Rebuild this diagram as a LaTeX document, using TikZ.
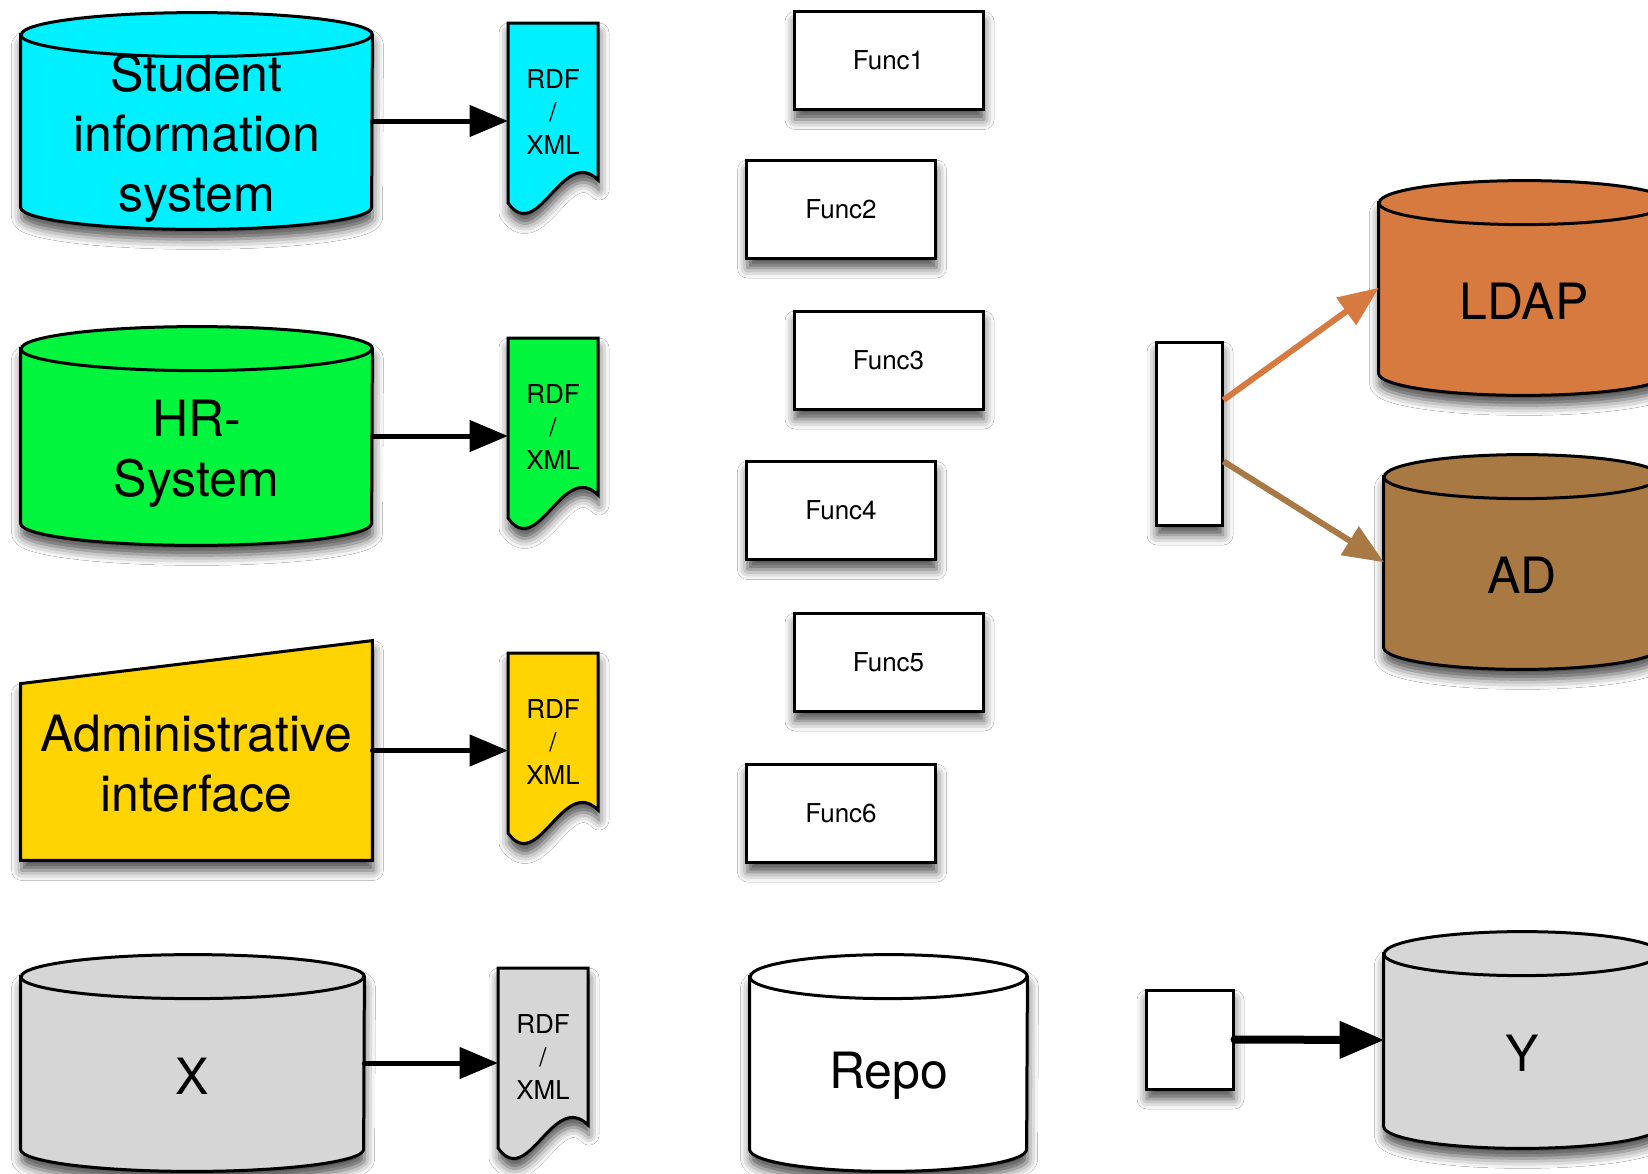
\documentclass[tikz,border=0pt]{standalone}
\usepackage{fontspec}
\setmainfont{TeX Gyre Heros}
\usetikzlibrary{arrows.meta,shadows.blur,calc}

\definecolor{siscyan}{RGB}{0,240,255}
\definecolor{hrgreen}{RGB}{0,245,60}
\definecolor{admyellow}{RGB}{255,212,0}
\definecolor{dbgray}{RGB}{214,214,214}
\definecolor{ldaporange}{RGB}{215,122,64}
\definecolor{adbrown}{RGB}{168,121,66}

\tikzset{
  base/.style={draw, line width=1.5pt, blur shadow={shadow xshift=0.5pt, shadow yshift=-5pt, shadow blur radius=5pt, shadow opacity=70}},
  bigtext/.style={align=center, inner sep=0pt, font=\fontsize{25}{30}\selectfont},
  func/.style={base, rectangle, fill=white, minimum width=94.5pt, minimum height=49pt, font=\fontsize{13}{16}\selectfont},
  doctext/.style={align=center, inner sep=0pt, minimum width=45pt, font=\fontsize{13}{16.5}\selectfont},
  feed/.style={opacity=1, line width=2.5pt, line cap=round, -{Triangle[length=19pt,width=16pt,line width=0.5pt,fill=black]}}
}

% database: name, centre x, centre y, width, height (px), colour, text, text drop
\newcommand{\dbcyl}[8]{%
  \node[inner sep=0pt, minimum width=#4*0.5pt, minimum height=#5*0.5pt] (#1) at (#2,#3) {};
  \draw[base, fill=#6] ([yshift=-11pt]#1.north west) -- ([yshift=11pt]#1.south west)
    arc[start angle=180, end angle=360, x radius=#4*0.25pt, y radius=11pt]
    -- ([yshift=-11pt]#1.north east)
    arc[start angle=0, end angle=180, x radius=#4*0.25pt, y radius=11pt] -- cycle;
  \draw[opacity=1, line width=1.5pt] ([yshift=-11pt]#1.north west) arc[start angle=180, end angle=360, x radius=#4*0.25pt, y radius=11pt];
  \node[bigtext] (#1-text) at ([yshift=-#8]#1.center) {#7};
}

\begin{document}
\begin{tikzpicture}[x=0.5pt, y=-0.5pt]
\fill[white] (0,0) rectangle (1648,1173);
\useasboundingbox (0,0) rectangle (1648,1173);

% sources
\dbcyl{sis}{196.5}{121}{351}{216}{siscyan}{Student\\information\\system}{8.5pt}
\dbcyl{hr}{196.5}{436}{351}{218}{hrgreen}{HR-\\System}{9pt}
\node[inner sep=0pt, minimum width=175.5pt, minimum height=109.5pt] (adm) at (196.5,750.5) {};
\draw[base, fill=admyellow] (adm.south west) -- (adm.south east) -- (adm.north east) -- ([yshift=-21.5pt]adm.north west) -- cycle;
\node[bigtext] (admtext) at (196.5,764) {Administrative\\interface};
\dbcyl{x}{192.5}{1063}{343}{216}{dbgray}{X}{6.5pt}

% exported documents
\foreach \nm/\x/\y/\col in {rdf1/508/23/siscyan, rdf2/508/338/hrgreen, rdf3/508/653/admyellow, rdf4/498/968/dbgray}{
  \draw[base, fill=\col] (\x,\y) -- (\x+90,\y) -- (\x+90,\y+157) .. controls (\x+55,\y+122) and (\x+30,\y+222) .. (\x,\y+180) -- cycle;
  \node[doctext] (\nm) at (\x+45,\y+89) {RDF\\/\\XML};
}

\draw[feed] (sis.east) -- (sis.east -| rdf1.west);
\draw[feed] (hr.east) -- (hr.east -| rdf2.west);
\draw[feed] (adm.east) -- (adm.east -| rdf3.west);
\draw[feed] (x.east) -- (x.east -| rdf4.west);

% functions
\node[func] (f1) at (888.5,60.5) {Func1};
\node[func] (f2) at (841,209) {Func2};
\node[func] (f3) at (888.5,360) {Func3};
\node[func] (f4) at (841,510.5) {Func4};
\node[func] (f5) at (888.5,662) {Func5};
\node[func] (f6) at (841,813) {Func6};

\dbcyl{repo}{888.5}{1063}{277}{216}{white}{Repo}{6.5pt}

% targets
\node[base, fill=white, minimum width=33pt, minimum height=91.5pt] (sync) at (1189,433.5) {};
\dbcyl{ldap}{1524}{288}{290}{214}{ldaporange}{LDAP}{6.5pt}
\dbcyl{ad}{1522}{562}{276}{214}{adbrown}{AD}{6.5pt}
\draw[opacity=1, line width=3pt, ldaporange, -{Triangle[length=20pt,width=17pt,line width=0.5pt]}] ($(sync.north east)!0.32!(sync.south east)$) -- (ldap.west);
\draw[opacity=1, line width=3pt, adbrown, -{Triangle[length=20pt,width=17pt,line width=0.5pt]}] ($(sync.north east)!0.65!(sync.south east)$) -- (ad.west);

\node[base, fill=white, minimum width=43.5pt, minimum height=49.5pt] (push) at (1189.5,1039.5) {};
\dbcyl{y}{1522}{1040}{276}{216}{dbgray}{Y}{6.5pt}
\draw[feed, line width=4pt, -{Triangle[length=22pt,width=19pt,line width=0.5pt,fill=black]}] (push.east) -- (y.west);
\end{tikzpicture}
\end{document}
